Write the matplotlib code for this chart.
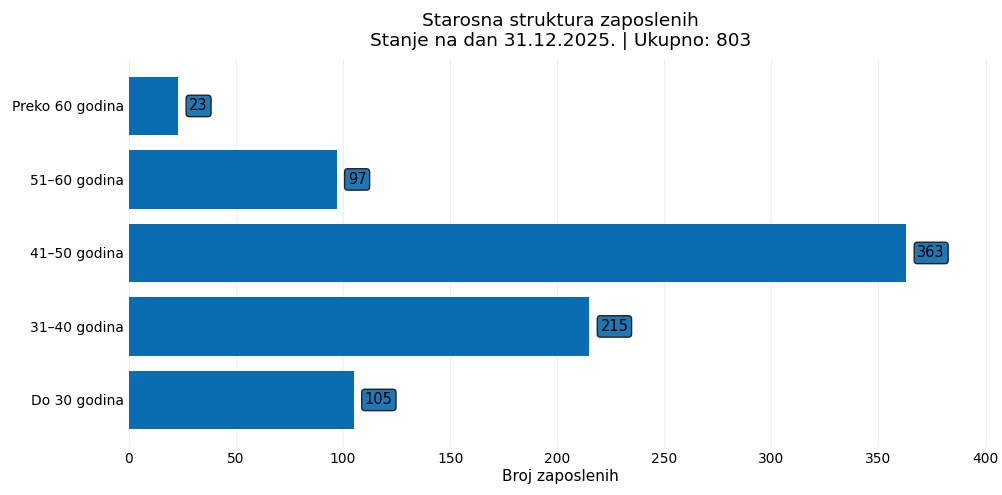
import matplotlib.pyplot as plt

kategorije = ["Do 30 godina", "31–40 godina", "41–50 godina", "51–60 godina", "Preko 60 godina"]
broj = [105, 215, 363, 97, 23]
ukupno = 803

fig = plt.figure(figsize=(10.02, 4.95), dpi=100)
ax = fig.add_axes([0.1287, 0.097, 0.8613, 0.784])

bars = ax.barh(kategorije, broj, height=0.8, color="#0b6db1", zorder=2)
for b, v in zip(bars, broj):
    ax.annotate(str(v), (b.get_width(), b.get_y() + b.get_height() / 2),
                xytext=(8, 0), textcoords="offset points", ha="left", va="center",
                fontsize=10.5,
                bbox=dict(boxstyle="round,pad=0.22", fc="#1f77b4", ec="#222222", lw=1))

ax.set_xlim(0, 403)
ax.set_xticks(range(0, 401, 50))
ax.grid(axis="x", color="#eeeef3", lw=0.8, zorder=0)
ax.tick_params(length=0, labelsize=10)
for s in ax.spines.values():
    s.set_visible(False)
ax.set_xlabel("Broj zaposlenih", fontsize=11, labelpad=2)
ax.set_title("Starosna struktura zaposlenih\nStanje na dan 31.12.2025. | Ukupno: %d" % ukupno,
             fontsize=13.3, pad=9)

fig.savefig("out.png", dpi=100)
